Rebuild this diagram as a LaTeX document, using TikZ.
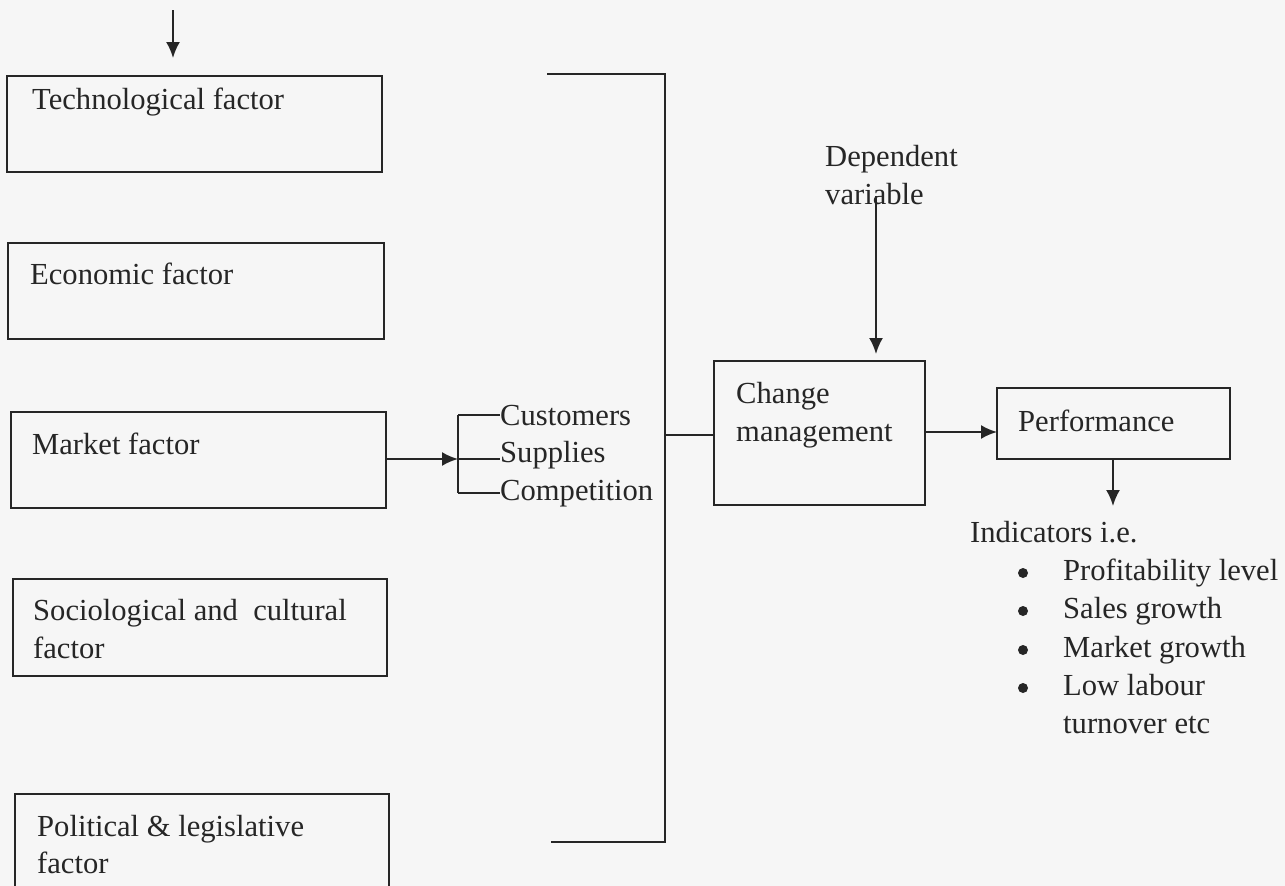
\documentclass[tikz,border=0pt]{standalone}
\usepackage{fontspec}
\setmainfont{Liberation Serif}
\usetikzlibrary{arrows.meta}
\definecolor{ink}{HTML}{262626}
\definecolor{paper}{HTML}{F6F6F6}
\tikzset{
  fbox/.style={draw=ink, line width=2pt, inner sep=0pt, outer sep=0pt, anchor=north west},
  txt/.style={text=ink, inner sep=0pt, anchor=base west, font=\fontsize{30.6}{38}\selectfont},
  conn/.style={draw=ink, line width=2pt},
  arr/.style={conn, -{Latex[length=16pt,width=14pt]}},
  bul/.style={circle, fill=ink, inner sep=0pt, minimum size=10pt}
}
\begin{document}
\begin{tikzpicture}[x=1pt,y=-1pt]
\useasboundingbox (0,0) rectangle (1285,886);
\fill[paper] (0,0) rectangle (1285,886);
\clip (0,0) rectangle (1285,886);

% factor boxes
\node[fbox, minimum width=375pt, minimum height=96pt] (tech) at (7,76) {};
\node[txt] (techT) at (32,109) {Technological factor};
\node[fbox, minimum width=376pt, minimum height=96pt] (econ) at (8,243) {};
\node[txt] (econT) at (30,284) {Economic factor};
\node[fbox, minimum width=375pt, minimum height=96pt] (market) at (11,412) {};
\node[txt] (marketT) at (32,454) {Market factor};
\node[fbox, minimum width=374pt, minimum height=97pt] (socio) at (13,579) {};
\node[txt] (socioT1) at (33,620) {Sociological and\ \ cultural};
\node[txt] (socioT2) at (33,658) {factor};
\node[fbox, minimum width=374pt, minimum height=110pt] (pol) at (15,794) {};
\node[txt] (polT1) at (37,836) {Political \& legislative};
\node[txt] (polT2) at (37,873) {factor};

% top arrow
\coordinate (topS) at (173,10);
\coordinate (topE) at (173,58);
\draw[arr] (topS) -- (topE);

% market split
\coordinate (splitT) at (458,415);
\coordinate (splitM) at (458,459);
\coordinate (splitB) at (458,493);
\node[txt] (cust) at (500,425) {Customers};
\node[txt] (supp) at (500,462) {Supplies};
\node[txt] (comp) at (500,500) {Competition};
\draw[arr] (market.east |- splitM) -- (splitM);
\draw[conn] (splitT) -- (splitB);
\draw[conn] (splitT) -- (splitT -| cust.west);
\draw[conn] (splitM) -- (splitM -| supp.west);
\draw[conn] (splitB) -- (splitB -| comp.west);

% big bracket
\coordinate (brTL) at (547,74);
\coordinate (brTR) at (665,74);
\coordinate (brBR) at (665,842);
\coordinate (brBL) at (551,842);
\coordinate (brM) at (665,435);
\draw[conn] (brTL) -- (brTR) -- (brBR) -- (brBL);

% change management
\node[fbox, minimum width=211pt, minimum height=144pt] (change) at (714,361) {};
\node[txt] (changeT1) at (736,403) {Change};
\node[txt] (changeT2) at (736,441) {management};
\draw[conn] (brM) -- (brM -| change.west);

% dependent variable
\node[txt] (dep1) at (825,166) {Dependent};
\node[txt] (dep2) at (825,204) {variable};
\coordinate (depS) at (876,196);
\draw[arr] (depS) -- (depS |- 0,354);

% performance
\node[fbox, minimum width=233pt, minimum height=71pt] (perf) at (997,388) {};
\node[txt] (perfT) at (1018,431) {Performance};
\coordinate (cpY) at (0,432);
\draw[arr] (change.east |- cpY) -- (perf.west |- cpY);
\coordinate (indA) at (1113,506);
\draw[arr] (perf.south -| indA) -- (indA);

% indicators
\node[txt] (ind) at (970,542) {Indicators i.e.};
\node[bul] (b1) at (1023,573) {};
\node[txt] (i1) at (1063,580) {Profitability level};
\node[bul] (b2) at (1023,611) {};
\node[txt] (i2) at (1063,618) {Sales growth};
\node[bul] (b3) at (1023,650) {};
\node[txt] (i3) at (1063,657) {Market growth};
\node[bul] (b4) at (1023,688) {};
\node[txt] (i4) at (1063,695) {Low labour};
\node[txt] (i5) at (1063,733) {turnover etc};
\end{tikzpicture}
\end{document}
